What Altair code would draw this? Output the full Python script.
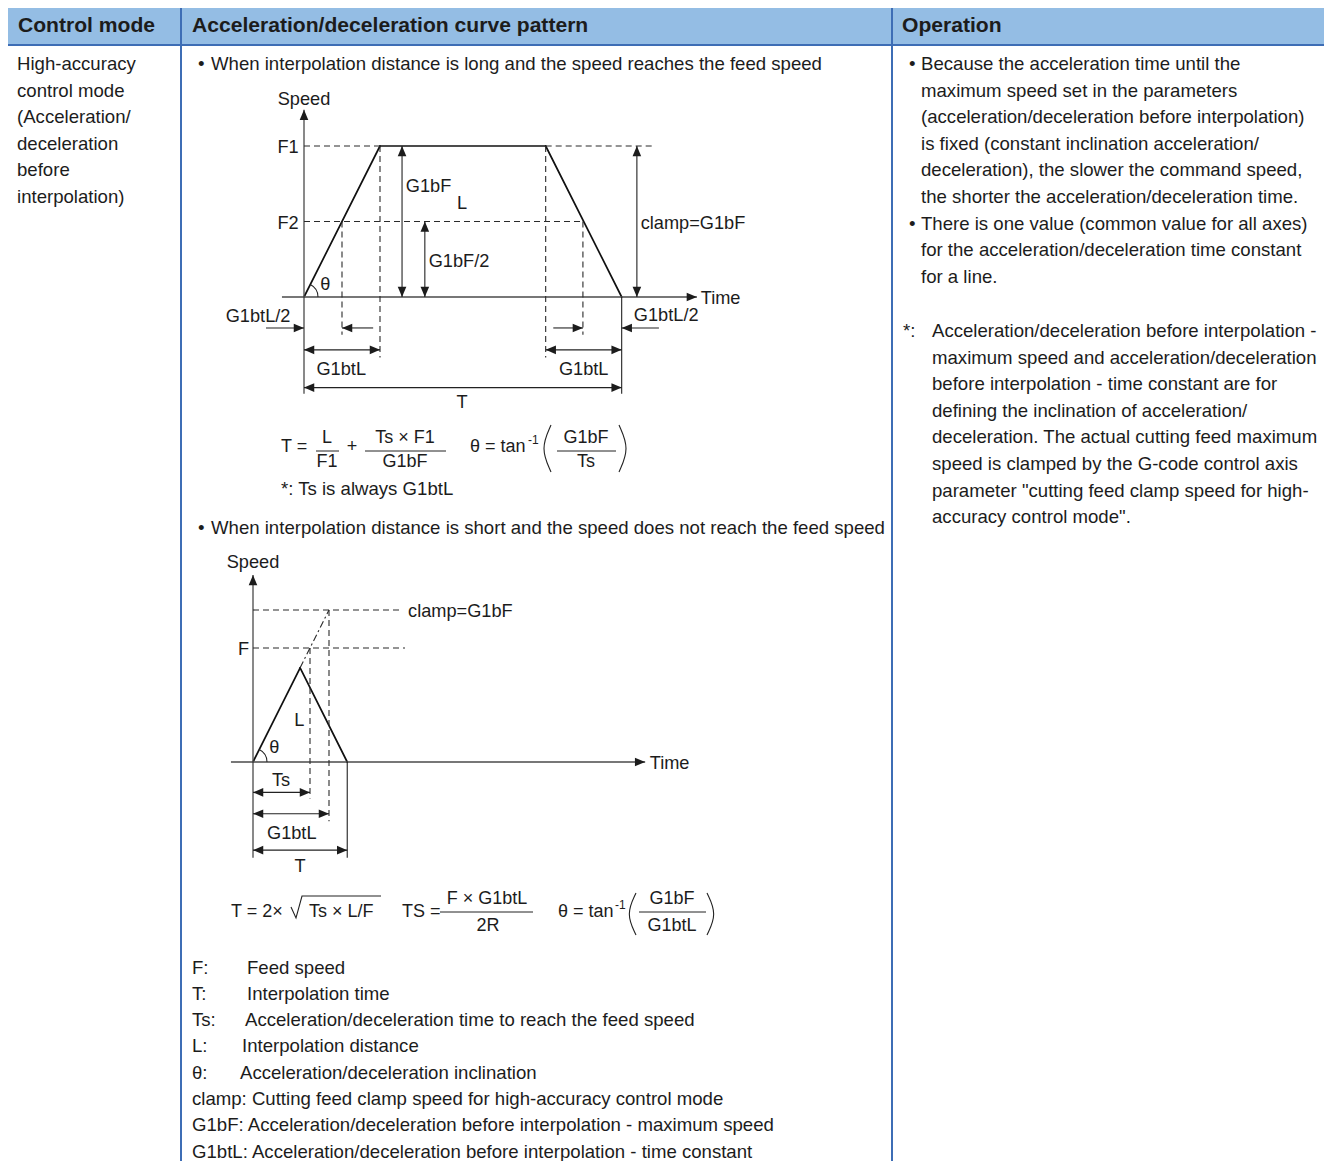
import math
import altair as alt
import pandas as pd

# ---------------------------------------------------------------- text content
HEADERS = ["Control mode", "Acceleration/deceleration curve pattern", "Operation"]
MODE_LINES = ["High-accuracy", "control mode", "(Acceleration/", "deceleration", "before", "interpolation)"]
CASE_TITLES = [
    "When interpolation distance is long and the speed reaches the feed speed",
    "When interpolation distance is short and the speed does not reach the feed speed",
]
OP_BULLET_1 = [
    "Because the acceleration time until the",
    "maximum speed set in the parameters",
    "(acceleration/deceleration before interpolation)",
    "is fixed (constant inclination acceleration/",
    "deceleration), the slower the command speed,",
    "the shorter the acceleration/deceleration time.",
]
OP_BULLET_2 = [
    "There is one value (common value for all axes)",
    "for the acceleration/deceleration time constant",
    "for a line.",
]
OP_NOTE = [
    "Acceleration/deceleration before interpolation -",
    "maximum speed and acceleration/deceleration",
    "before interpolation - time constant are for",
    "defining the inclination of acceleration/",
    "deceleration. The actual cutting feed maximum",
    "speed is clamped by the G-code control axis",
    "parameter \"cutting feed clamp speed for high-",
    "accuracy control mode\".",
]
LEGEND_KEYS = ["F:", "T:", "Ts:", "L:", "θ:"]
LEGEND_DESCS = [
    "Feed speed",
    "Interpolation time",
    "Acceleration/deceleration time to reach the feed speed",
    "Interpolation distance",
    "Acceleration/deceleration inclination",
]
LEGEND_LINES = [
    "clamp: Cutting feed clamp speed for high-accuracy control mode",
    "G1bF: Acceleration/deceleration before interpolation - maximum speed",
    "G1btL: Acceleration/deceleration before interpolation - time constant",
]

# ---------------------------------------------------------------- diagram values
# time in units of G1btL, speed in units of G1bF
D1_PROFILE_T = [0.0, 1.0, 3.18, 4.18]     # long distance: trapezoid
D1_PROFILE_S = [0.0, 1.0, 1.0, 0.0]
D1_F1, D1_F2 = 1.0, 0.5
D1_F2_T = [0.5, 3.67]                     # F2 reached on accel / decel ramps
D1_T_END = 4.18

D2_PROFILE_T = [0.0, 0.62, 1.24]          # short distance: triangle
D2_PROFILE_S = [0.0, 0.62, 0.0]
D2_CLAMP, D2_F = 1.0, 0.75
D2_TS, D2_G1BTL, D2_T_END = 0.75, 1.0, 1.24

# ---------------------------------------------------------------- layout
W, H = 1316, 1153
FONT = "Liberation Sans"
INK = "#1c1c1c"
BLUE_FILL = "#94bde4"
BLUE_LINE = "#3d6db5"
BODY = 18.6
LH = 26.6
PX_T = 76
D1_O, D1_PS = (304, 297), 151
D2_O, D2_PS = (253, 762), 152
LABEL_DY = 2


def d1(t, s):
    return D1_O[0] + t * PX_T, D1_O[1] - s * D1_PS


def d2(t, s):
    return D2_O[0] + t * PX_T, D2_O[1] - s * D2_PS


texts, segs, heads, curves = [], [], [], []


def txt(p, text, size=BODY, align="left", weight="normal", dy=0):
    texts.append(dict(x=p[0], y=p[1] + dy, text=text, size=size, anchor=align, wt=weight))


def seg(p, q, style):
    segs.append(dict(x=p[0], y=p[1], x2=q[0], y2=q[1], style=style))


def head(tip, frm):
    ang = math.degrees(math.atan2(tip[1] - frm[1], tip[0] - frm[0])) % 360
    heads.append(dict(x=tip[0], y=tip[1], angle=ang))


def arrow(frm, tip, style="thin"):
    seg(frm, tip, style)
    head(tip, frm)


def dim(p, q):
    seg(p, q, "thin")
    head(q, p)
    head(p, q)


def curve(name, pts):
    for i, (x, y) in enumerate(pts):
        curves.append(dict(x=x, y=y, grp=name, ord=i))


# ---- table frame text
for x, h in zip([18, 192, 902], HEADERS):
    txt((x, 26), h, 21.1, weight="bold")
for i, s in enumerate(MODE_LINES):
    txt((17, 64 + i * LH), s)
for y, s in zip([64, 528], CASE_TITLES):
    txt((198, y), "•")
    txt((211, y), s)
txt((909, 64), "•")
for i, s in enumerate(OP_BULLET_1):
    txt((921, 64 + i * LH), s)
txt((909, 64 + 6 * LH), "•")
for i, s in enumerate(OP_BULLET_2):
    txt((921, 64 + (6 + i) * LH), s)
txt((903, 331), "*:")
for i, s in enumerate(OP_NOTE):
    txt((932, 331 + i * LH), s)
LEG_Y0, LEG_LH = 967.5, 26.3
for i, (k, d, dx) in enumerate(zip(LEGEND_KEYS, LEGEND_DESCS, [247, 247, 245, 242, 240])):
    txt((192, LEG_Y0 + i * LEG_LH), k)
    txt((dx, LEG_Y0 + i * LEG_LH), d)
for i, s in enumerate(LEGEND_LINES):
    txt((192, LEG_Y0 + (5 + i) * LEG_LH), s)

# ---- diagram 1
P = [d1(t, s) for t, s in zip(D1_PROFILE_T, D1_PROFILE_S)]
for a, b in zip(P[:-1], P[1:]):
    seg(a, b, "curve")
arrow(d1(0, -0.64), d1(0, 1.24), "axis")
arrow(d1(-0.29, 0), d1(5.17, 0), "axis")
seg(d1(D1_T_END, 0), d1(D1_T_END, -0.64), "thin")
seg(d1(0, D1_F1), d1(D1_PROFILE_T[1], D1_F1), "dash")
seg(d1(D1_PROFILE_T[2], D1_F1), d1(4.58, D1_F1), "dash")
seg(d1(0, D1_F2), d1(D1_F2_T[1], D1_F2), "dash")
seg(d1(D1_F2_T[0], D1_F2), d1(D1_F2_T[0], -0.25), "dash")
seg(d1(D1_F2_T[1], D1_F2), d1(D1_F2_T[1], -0.25), "dash")
seg(d1(D1_PROFILE_T[1], D1_F1), d1(D1_PROFILE_T[1], -0.40), "dash")
seg(d1(D1_PROFILE_T[2], D1_F1), d1(D1_PROFILE_T[2], -0.40), "dash")
dim(d1(1.29, 0), d1(1.29, D1_F1))
dim(d1(1.59, 0), d1(1.59, D1_F2))
dim(d1(4.38, 0), d1(4.38, D1_F1))
arrow(d1(-0.5, -0.205), d1(0, -0.205))
arrow(d1(0.91, -0.205), d1(D1_F2_T[0], -0.205))
arrow(d1(3.28, -0.205), d1(D1_F2_T[1], -0.205))
arrow(d1(4.67, -0.205), d1(D1_T_END, -0.205))
dim(d1(0, -0.35), d1(D1_PROFILE_T[1], -0.35))
dim(d1(D1_PROFILE_T[2], -0.35), d1(D1_T_END, -0.35))
dim(d1(0, -0.60), d1(D1_T_END, -0.60))
for (t, s), label, al in [
    ((0, 1.32), "Speed", "center"), ((-0.07, D1_F1), "F1", "right"), ((-0.07, D1_F2), "F2", "right"),
    ((1.34, 0.74), "G1bF", "left"), ((2.08, 0.63), "L", "center"), ((1.64, 0.245), "G1bF/2", "left"),
    ((4.43, 0.5), "clamp=G1bF", "left"), ((0.28, 0.09), "θ", "center"), ((5.22, 0), "Time", "left"),
    ((-1.03, -0.12), "G1btL/2", "left"), ((4.34, -0.11), "G1btL/2", "left"),
    ((0.49, -0.47), "G1btL", "center"), ((3.68, -0.47), "G1btL", "center"), ((2.08, -0.69), "T", "center"),
]:
    txt(d1(t, s), label, 18.2, al, dy=LABEL_DY)

# ---- diagram 2
Q = [d2(t, s) for t, s in zip(D2_PROFILE_T, D2_PROFILE_S)]
for a, b in zip(Q[:-1], Q[1:]):
    seg(a, b, "curve")
arrow(d2(0, -0.63), d2(0, 1.23), "axis")
arrow(d2(-0.29, 0), d2(5.16, 0), "axis")
seg(Q[1], d2(D2_G1BTL, D2_CLAMP), "dashdot")
seg(d2(0, D2_CLAMP), d2(1.97, D2_CLAMP), "dash")
seg(d2(0, D2_F), d2(2.0, D2_F), "dash")
seg(d2(D2_TS, D2_F), d2(D2_TS, -0.24), "dash")
seg(d2(D2_G1BTL, D2_CLAMP), d2(D2_G1BTL, -0.39), "dash")
seg(d2(D2_T_END, 0), d2(D2_T_END, -0.63), "thin")
dim(d2(0, -0.20), d2(D2_TS, -0.20))
dim(d2(0, -0.34), d2(D2_G1BTL, -0.34))
dim(d2(0, -0.58), d2(D2_T_END, -0.58))
for (t, s), label, al in [
    ((0, 1.32), "Speed", "center"), ((2.04, D2_CLAMP), "clamp=G1bF", "left"), ((-0.05, D2_F), "F", "right"),
    ((0.61, 0.28), "L", "center"), ((0.28, 0.105), "θ", "center"), ((5.22, 0), "Time", "left"),
    ((0.37, -0.11), "Ts", "center"), ((0.51, -0.46), "G1btL", "center"), ((0.62, -0.68), "T", "center"),
]:
    txt(d2(t, s), label, 18.2, al, dy=LABEL_DY)

# ---- formulas
F = 18
txt((281, 447), "T =", F)
txt((327, 438), "L", F, "center"); seg((316, 451), (339, 451), "bar"); txt((327, 462), "F1", F, "center")
txt((352, 447), "+", F, "center")
txt((405, 438), "Ts × F1", F, "center"); seg((365, 451), (446, 451), "bar"); txt((405, 462), "G1bF", F, "center")
txt((470, 447), "θ = tan", F); txt((528, 440), "-1", 12)
curve("p1", [(551, 425), (540.5, 448.5), (551, 472)])
txt((586, 438), "G1bF", F, "center"); seg((557, 451), (616, 451), "bar"); txt((586, 462), "Ts", F, "center")
curve("p2", [(619, 425), (629.5, 448.5), (619, 472)])
txt((281, 489), "*: Ts is always G1btL", BODY)

txt((231, 912), "T = 2×", F)
curve("rad", [(291, 907), (296, 918), (302, 896), (381, 896)])
txt((309, 912), "Ts × L/F", F)
txt((402, 912), "TS =", F)
txt((487, 899), "F × G1btL", F, "center"); seg((440, 912), (533, 912), "bar"); txt((488, 926), "2R", F, "center")
txt((558, 912), "θ = tan", F); txt((615, 905), "-1", 12)
curve("p3", [(636, 893), (626, 914), (636, 935)])
txt((672, 899), "G1bF", F, "center"); seg((639, 912), (706, 912), "bar"); txt((672, 926), "G1btL", F, "center")
curve("p4", [(707, 893), (717, 914), (707, 935)])

# ---- table borders
seg((7, 7), (1332, 7), "border")
seg((7, 45), (1332, 45), "border")
seg((181, 7), (181, 1169), "border")
seg((892, 7), (892, 1169), "border")

# ---------------------------------------------------------------- chart
xs = alt.Scale(domain=[8, 8 + W], nice=False, zero=False)
ys = alt.Scale(domain=[8, 8 + H], nice=False, zero=False, reverse=True)


def X(f="x"):
    return alt.X(f"{f}:Q", scale=xs, axis=None)


def Y(f="y"):
    return alt.Y(f"{f}:Q", scale=ys, axis=None)


seg_df = pd.DataFrame(segs)
txt_df = pd.DataFrame(texts)
head_df = pd.DataFrame(heads)
curve_df = pd.DataFrame(curves)

header = alt.Chart(pd.DataFrame([dict(x=7, x2=1332, y=7, y2=45)])).mark_rect(
    color=BLUE_FILL).encode(x=X(), x2="x2:Q", y=Y(), y2="y2:Q")

STYLES = {
    "border": dict(color=BLUE_LINE, strokeWidth=2),
    "curve": dict(color="#111111", strokeWidth=1.7, strokeCap="round"),
    "axis": dict(color="#4a4a4a", strokeWidth=1.3),
    "thin": dict(color="#222222", strokeWidth=1.1),
    "bar": dict(color="#222222", strokeWidth=1),
    "dash": dict(color="#2a2a2a", strokeWidth=1.1, strokeDash=[6, 4]),
    "dashdot": dict(color="#2a2a2a", strokeWidth=1.1, strokeDash=[7, 3, 2, 3]),
}
layers = [header]
for name, props in STYLES.items():
    layers.append(
        alt.Chart(seg_df).transform_filter(alt.datum.style == name)
        .mark_rule(**props).encode(x=X(), y=Y(), x2="x2:Q", y2="y2:Q")
    )

layers.append(
    alt.Chart(head_df).mark_point(
        shape="M0,0L-1,-0.42L-1,0.42Z", filled=True, color="#1c1c1c", opacity=1, size=420
    ).encode(x=X(), y=Y(), angle=alt.Angle("angle:Q", scale=None))
)

for name in ["p1", "p2", "p3", "p4"]:
    layers.append(
        alt.Chart(curve_df).transform_filter(alt.datum.grp == name)
        .mark_line(interpolate="basis", color="#222222", strokeWidth=1.1)
        .encode(x=X(), y=Y(), order="ord:Q")
    )
layers.append(
    alt.Chart(curve_df).transform_filter(alt.datum.grp == "rad")
    .mark_line(color="#222222", strokeWidth=1.1)
    .encode(x=X(), y=Y(), order="ord:Q")
)

for origin, ps, pt, pv in [(D1_O, D1_PS, D1_PROFILE_T, D1_PROFILE_S), (D2_O, D2_PS, D2_PROFILE_T, D2_PROFILE_S)]:
    slope = math.atan2(pv[1] * ps, pt[1] * PX_T)
    layers.append(
        alt.Chart(pd.DataFrame([dict(x=origin[0], y=origin[1])])).mark_arc(
            theta=math.pi / 2 - slope, theta2=math.pi / 2, radius=14.5, radius2=13.5, color="#222222"
        ).encode(x=X(), y=Y())
    )

for weight in ["normal", "bold"]:
    for align in ["left", "center", "right"]:
        sub = txt_df[(txt_df["wt"] == weight) & (txt_df["anchor"] == align)]
        if len(sub) == 0:
            continue
        layers.append(
            alt.Chart(sub).mark_text(
                align=align, baseline="middle", font=FONT, fontWeight=weight, color=INK
            ).encode(x=X(), y=Y(), text="text:N", size=alt.Size("size:Q", scale=None))
        )

chart = alt.layer(*layers).properties(
    width=W, height=H, padding=0, autosize=alt.AutoSizeParams(type="none")
).configure_view(stroke=None)

chart.save("out.html", embed_options={"renderer": "svg", "actions": False})
